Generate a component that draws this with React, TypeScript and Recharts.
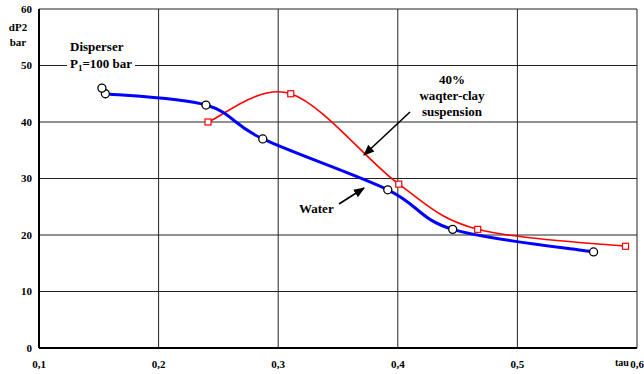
import { LineChart, Line, XAxis, YAxis, CartesianGrid } from "recharts"

// tau values and dP2 (bar)
const waterTau = [0.1555, 0.2396, 0.2871, 0.3916, 0.4459, 0.5637]
const waterDp = [45, 43, 37, 28, 21, 17]
const waterExtraTau = [0.1526]
const waterExtraDp = [46]
const clayTau = [0.2413, 0.3105, 0.4008, 0.4668, 0.5904]
const clayDp = [40, 45, 29, 21, 18]
const xTicks = [0.1, 0.2, 0.3, 0.4, 0.5, 0.6]
const yTicks = [0, 10, 20, 30, 40, 50, 60]

const water = waterTau.map((x, i) => ({ x, y: waterDp[i] }))
const waterExtra = waterExtraTau.map((x, i) => ({ x, y: waterExtraDp[i] }))
const clay = clayTau.map((x, i) => ({ x, y: clayDp[i] }))

// excel-like smoothed line (catmull-rom through the points)
const smooth = (context: any) => {
  let pts: number[][] = []
  return {
    areaStart() {},
    areaEnd() {},
    lineStart() {
      pts = []
    },
    point(x: number, y: number) {
      pts.push([+x, +y])
    },
    lineEnd() {
      if (!pts.length) return
      context.moveTo(pts[0][0], pts[0][1])
      for (let i = 0; i < pts.length - 1; i++) {
        const p0 = pts[Math.max(i - 1, 0)]
        const p1 = pts[i]
        const p2 = pts[i + 1]
        const p3 = pts[Math.min(i + 2, pts.length - 1)]
        const t = 1 / 6
        context.bezierCurveTo(
          p1[0] + (p2[0] - p0[0]) * t,
          p1[1] + (p2[1] - p0[1]) * t,
          p2[0] - (p3[0] - p1[0]) * t,
          p2[1] - (p3[1] - p1[1]) * t,
          p2[0],
          p2[1]
        )
      }
    },
  }
}

const font = "Liberation Serif, Times New Roman, serif"

const CircleDot = (props: any) => {
  const { cx, cy } = props
  if (cx == null || cy == null) return null
  return <circle cx={cx} cy={cy} r={4} fill="#fff" stroke="#000" strokeWidth={1.3} />
}

const SquareDot = (props: any) => {
  const { cx, cy } = props
  if (cx == null || cy == null) return null
  return <rect x={cx - 3} y={cy - 3} width={6} height={6} fill="#fff" stroke="#f00" strokeWidth={1.2} />
}

const fmt = (v: number) => String(v).replace(".", ",")

export default function App() {
  return (
    <div style={{ position: "relative", width: 644, height: 374, background: "#fff", fontFamily: font }}>
      <style>{`body{margin:0}`}</style>
      <LineChart width={644} height={374} margin={{ top: 9, right: 7, left: 0, bottom: 0 }}>
        <CartesianGrid stroke="#222" strokeWidth={1} />
        <XAxis
          type="number"
          dataKey="x"
          domain={[0.1, 0.6]}
          ticks={xTicks}
          tickFormatter={fmt}
          height={26}
          tickLine={false}
          axisLine={{ stroke: "#000", strokeWidth: 2 }}
          tickMargin={6}
          tick={{ fill: "#000", fontSize: 11, fontWeight: "bold", fontFamily: font }}
          allowDataOverflow
        />
        <YAxis
          type="number"
          dataKey="y"
          domain={[0, 60]}
          ticks={yTicks}
          width={39}
          tickLine={false}
          axisLine={{ stroke: "#000", strokeWidth: 2 }}
          tickMargin={1}
          tick={{ fill: "#000", fontSize: 11, fontWeight: "bold", fontFamily: font }}
        />
        <Line
          data={clay}
          dataKey="y"
          type={smooth as any}
          stroke="#f00"
          strokeWidth={1.6}
          dot={<SquareDot />}
          isAnimationActive={false}
        />
        <Line
          data={water}
          dataKey="y"
          type={smooth as any}
          stroke="#00f"
          strokeWidth={3}
          dot={<CircleDot />}
          isAnimationActive={false}
        />
        <Line
          data={waterExtra}
          dataKey="y"
          stroke="none"
          dot={<CircleDot />}
          isAnimationActive={false}
        />
      </LineChart>
      <svg
        width={644}
        height={374}
        style={{ position: "absolute", left: 0, top: 0, pointerEvents: "none" }}
        fontFamily={font}
        fontWeight="bold"
      >
        <defs>
          <marker id="ah" viewBox="0 0 10 10" refX="9" refY="5" markerWidth="7" markerHeight="7" orient="auto">
            <path d="M0,1 L10,5 L0,9 z" fill="#000" />
          </marker>
        </defs>
        <text x={18} y={31} fontSize={11} textAnchor="middle">dP2</text>
        <text x={18} y={46} fontSize={11} textAnchor="middle">bar</text>
        <rect x={67} y={58} width={68} height={14} fill="#fff" />
        <text x={70} y={51} fontSize={13}>Disperser</text>
        <text x={70} y={68} fontSize={13}>
          P<tspan fontSize={9} dy={3}>1</tspan>
          <tspan dy={-3}>=100 bar</tspan>
        </text>
        <rect x={411} y={100} width={81} height={16} fill="#fff" />
        <text x={452} y={84} fontSize={13} textAnchor="middle">40%</text>
        <text x={452} y={100} fontSize={13} textAnchor="middle">waqter-clay</text>
        <text x={452} y={116} fontSize={13} textAnchor="middle">suspension</text>
        <line x1={410} y1={112} x2={364} y2={155} stroke="#000" strokeWidth={1.6} markerEnd="url(#ah)" />
        <text x={299} y={213} fontSize={13}>Water</text>
        <line x1={339} y1={204} x2={364} y2={188} stroke="#000" strokeWidth={1.6} markerEnd="url(#ah)" />
        <text x={615} y={366} fontSize={10}>tau</text>
      </svg>
    </div>
  )
}
